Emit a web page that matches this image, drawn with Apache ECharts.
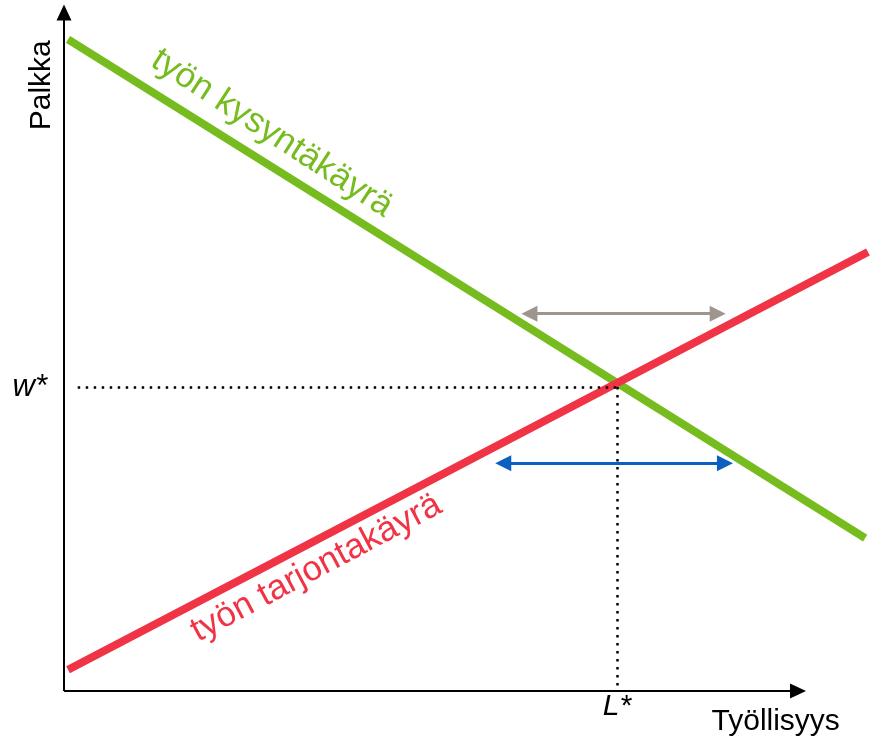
<!DOCTYPE html>
<html>
<head>
<meta charset="utf-8">
<script src="https://cdn.jsdelivr.net/npm/echarts@6/dist/echarts.min.js"></script>
<style>
  html, body { margin: 0; padding: 0; background: #fff; }
  #main { width: 871px; height: 740px; }
</style>
</head>
<body>
<div id="main"></div>
<script>
// curve end points (x: työllisyys, y: palkka), axis range 0..100
const demandX = [0.5, 99.4]
const demandY = [95.0, 22.3]
const supplyX = [0.5, 99.75]
const supplyY = [3.1, 64.0]
// equilibrium
const wStar = 44.3
const lStar = 68.6
// horizontal double arrows
const grayArrowX = [57.75, 81.1]
const grayArrowY = 55.0
const blueArrowX = [54.5, 82.0]
const blueArrowY = 33.2
// axis arrow ends
const xAxisEnd = 91.07
const yAxisEnd = 98.9

const FONT = "'Liberation Sans', Arial, sans-serif"
const GREEN = '#76bc1f'
const RED = '#f03446'

const myChart = echarts.init(document.getElementById('main'))

function textPoint(x, y, text, color, rotate, size) {
    return {
        value: [x, y],
        label: {
            show: true,
            position: 'inside',
            formatter: text,
            color: color,
            rotate: rotate,
            fontSize: size,
            fontFamily: FONT,
        },
    }
}

myChart.setOption({
    animation: false,
    grid: { left: 64, right: 1, top: 5, bottom: 49 },
    xAxis: {
        type: 'value',
        min: 0,
        max: 100,
        axisLine: { show: false },
        axisTick: { show: false },
        splitLine: { show: false },
        axisLabel: {
            customValues: [lStar],
            formatter: () => 'L*',
            fontStyle: 'italic',
            fontSize: 30,
            fontFamily: FONT,
            color: '#000',
            margin: 1,
        },
    },
    yAxis: {
        type: 'value',
        min: 0,
        max: 100,
        axisLine: { show: false },
        axisTick: { show: false },
        splitLine: { show: false },
        axisLabel: {
            customValues: [wStar],
            formatter: () => 'w*',
            fontStyle: 'italic',
            fontSize: 31,
            fontFamily: FONT,
            color: '#000',
            margin: 17,
        },
    },
    series: [
        {
            name: 'työn kysyntäkäyrä',
            type: 'line',
            symbol: 'none',
            lineStyle: { color: GREEN, width: 8, cap: 'butt' },
            data: demandX.map((x, i) => [x, demandY[i]]),
            z: 3,
        },
        {
            name: 'työn tarjontakäyrä',
            type: 'line',
            symbol: 'none',
            lineStyle: { color: RED, width: 8, cap: 'butt' },
            data: supplyX.map((x, i) => [x, supplyY[i]]),
            z: 4,
        },
        {
            // akselit
            type: 'line',
            data: [],
            markLine: {
                silent: true,
                animation: false,
                symbol: ['none', 'triangle'],
                symbolSize: [15, 16],
                label: { show: false },
                lineStyle: { color: '#000', width: 2, type: 'solid' },
                data: [
                    [{ coord: [0, 0] }, { coord: [xAxisEnd, 0] }],
                    [{ coord: [0, 0] }, { coord: [0, yAxisEnd] }],
                ],
            },
        },
        {
            // katkoviivat
            type: 'line',
            data: [],
            markLine: {
                silent: true,
                animation: false,
                symbol: ['none', 'none'],
                label: { show: false },
                lineStyle: { color: '#000', width: 2.5, type: [2.5, 5.5] },
                data: [
                    [{ coord: [1.7, wStar] }, { coord: [lStar, wStar] }],
                    [{ coord: [lStar, wStar] }, { coord: [lStar, 0] }],
                ],
            },
        },
        {
            type: 'line',
            data: [],
            markLine: {
                silent: true,
                animation: false,
                symbol: ['triangle', 'triangle'],
                symbolSize: [16, 16],
                label: { show: false },
                lineStyle: { color: '#9e958e', width: 3, type: 'solid' },
                data: [[{ coord: [grayArrowX[0], grayArrowY] }, { coord: [grayArrowX[1], grayArrowY] }]],
            },
        },
        {
            type: 'line',
            data: [],
            markLine: {
                silent: true,
                animation: false,
                symbol: ['triangle', 'triangle'],
                symbolSize: [16, 16],
                label: { show: false },
                lineStyle: { color: '#0a5fc0', width: 3, type: 'solid' },
                data: [[{ coord: [blueArrowX[0], blueArrowY] }, { coord: [blueArrowX[1], blueArrowY] }]],
            },
        },
        {
            // tekstit
            type: 'scatter',
            symbolSize: 0,
            clip: false,
            silent: true,
            itemStyle: { opacity: 1 },
            data: [
                textPoint(25.8, 81.3, 'työn kysyntäkäyrä', GREEN, -33, 35),
                textPoint(31.3, 17.9, 'työn tarjontakäyrä', RED, 28, 35),
                textPoint(-2.73, 88.3, 'Palkka', '#000', 90, 30),
                textPoint(88.3, -4.5, 'Työllisyys', '#000', 0, 30),
            ],
        },
    ],
})
window.addEventListener('resize', myChart.resize)
</script>
</body>
</html>
